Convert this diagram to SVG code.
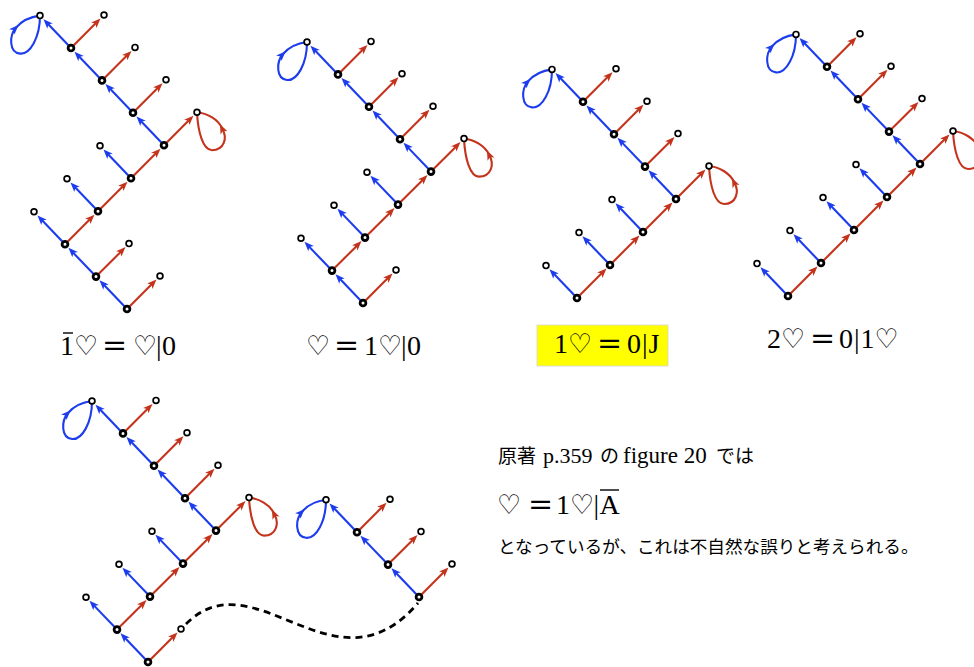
<svg xmlns="http://www.w3.org/2000/svg" xmlns:xlink="http://www.w3.org/1999/xlink" width="974" height="667" viewBox="0 0 974 667">
<style>
.lbl{font-family:"Liberation Serif","DejaVu Serif",serif;font-size:28px;fill:#000}
.ht{font-family:"DejaVu Sans",sans-serif;font-size:27px}
.eq{font-family:"DejaVu Serif",serif;font-size:30px}
.jp{font-family:"Noto Sans CJK JP",sans-serif;fill:#000}
.lt{font-family:"Liberation Serif","DejaVu Serif",serif;fill:#000}
.ovl{stroke:#000;stroke-width:1.4}
</style>
<defs>
<path id="ahR" d="M0,0 l-9.5,-3.8 l2.4,3.8 l-2.4,3.8z" fill="#c4341c"/>
<path id="ahB" d="M0,0 l-9.5,-3.8 l2.4,3.8 l-2.4,3.8z" fill="#1c3cee"/>
<g id="eR"><g transform="rotate(-45)"><line x1="0" y1="0" x2="36" y2="0" stroke="#c4341c" stroke-width="2.1"/><use xlink:href="#ahR" x="41.7" y="0"/></g></g>
<g id="eB"><g transform="rotate(-133.74)"><line x1="0" y1="0" x2="34.2" y2="0" stroke="#1c3cee" stroke-width="2.1"/><use xlink:href="#ahB" x="39.8" y="0"/></g></g>
<g id="loopB"><path d="M0,0 C0,22 -10,39 -20,38 C-31,37 -31,20 -24,12 C-18,5 -8,1 0,0" fill="none" stroke="#1c3cee" stroke-width="2.1"/><use xlink:href="#ahB" transform="translate(-21.5,9.5) rotate(-45)"/></g>
<g id="loopR"><path d="M0,0 C1,20 6,38 15,38 C27,38 31,26 25,16 C21,7 10,1 0,0" fill="none" stroke="#c4341c" stroke-width="2.1"/><use xlink:href="#ahR" transform="translate(23,12) rotate(-115)"/></g>
<circle id="ni" r="2.9" fill="#fff" stroke="#000" stroke-width="2.8"/>
<circle id="nl" r="2.9" fill="#fff" stroke="#000" stroke-width="1.7"/>
</defs>
<rect width="974" height="667" fill="#fff"/>

<g id="connectors">
<!-- diagram 1 -->
<use xlink:href="#eB" x="127" y="309"/><use xlink:href="#eR" x="127" y="309"/>
<use xlink:href="#eB" x="96" y="276.6"/><use xlink:href="#eR" x="96" y="276.6"/>
<use xlink:href="#eB" x="65" y="244.2"/><use xlink:href="#eR" x="65" y="244.2"/>
<use xlink:href="#eB" x="98" y="211.2"/><use xlink:href="#eR" x="98" y="211.2"/>
<use xlink:href="#eB" x="131" y="178.2"/><use xlink:href="#eR" x="131" y="178.2"/>
<use xlink:href="#eB" x="164" y="145.2"/><use xlink:href="#eR" x="164" y="145.2"/>
<use xlink:href="#eB" x="133" y="112.8"/><use xlink:href="#eR" x="133" y="112.8"/>
<use xlink:href="#eB" x="102" y="80.4"/><use xlink:href="#eR" x="102" y="80.4"/>
<use xlink:href="#eB" x="71" y="48"/><use xlink:href="#eR" x="71" y="48"/>
<use xlink:href="#loopR" x="197" y="112.2"/><use xlink:href="#loopB" x="40" y="15.6"/>
<!-- diagram 2 -->
<use xlink:href="#eB" x="363" y="303"/><use xlink:href="#eR" x="363" y="303"/>
<use xlink:href="#eB" x="332" y="270.6"/><use xlink:href="#eR" x="332" y="270.6"/>
<use xlink:href="#eB" x="365" y="237.6"/><use xlink:href="#eR" x="365" y="237.6"/>
<use xlink:href="#eB" x="398" y="204.6"/><use xlink:href="#eR" x="398" y="204.6"/>
<use xlink:href="#eB" x="431" y="171.6"/><use xlink:href="#eR" x="431" y="171.6"/>
<use xlink:href="#eB" x="400" y="139.2"/><use xlink:href="#eR" x="400" y="139.2"/>
<use xlink:href="#eB" x="369" y="106.8"/><use xlink:href="#eR" x="369" y="106.8"/>
<use xlink:href="#eB" x="338" y="74.4"/><use xlink:href="#eR" x="338" y="74.4"/>
<use xlink:href="#loopR" x="464" y="138.6"/><use xlink:href="#loopB" x="307" y="42"/>
<!-- diagram 3 -->
<use xlink:href="#eB" x="577" y="298"/><use xlink:href="#eR" x="577" y="298"/>
<use xlink:href="#eB" x="610" y="265"/><use xlink:href="#eR" x="610" y="265"/>
<use xlink:href="#eB" x="643" y="232"/><use xlink:href="#eR" x="643" y="232"/>
<use xlink:href="#eB" x="676" y="199"/><use xlink:href="#eR" x="676" y="199"/>
<use xlink:href="#eB" x="645" y="166.6"/><use xlink:href="#eR" x="645" y="166.6"/>
<use xlink:href="#eB" x="614" y="134.2"/><use xlink:href="#eR" x="614" y="134.2"/>
<use xlink:href="#eB" x="583" y="101.8"/><use xlink:href="#eR" x="583" y="101.8"/>
<use xlink:href="#loopR" x="709" y="166"/><use xlink:href="#loopB" x="552" y="69.4"/>
<!-- diagram 4 -->
<use xlink:href="#eB" x="788" y="296"/><use xlink:href="#eR" x="788" y="296"/>
<use xlink:href="#eB" x="821" y="263"/><use xlink:href="#eR" x="821" y="263"/>
<use xlink:href="#eB" x="854" y="230"/><use xlink:href="#eR" x="854" y="230"/>
<use xlink:href="#eB" x="887" y="197"/><use xlink:href="#eR" x="887" y="197"/>
<use xlink:href="#eB" x="920" y="164"/><use xlink:href="#eR" x="920" y="164"/>
<use xlink:href="#eB" x="889" y="131.6"/><use xlink:href="#eR" x="889" y="131.6"/>
<use xlink:href="#eB" x="858" y="99.2"/><use xlink:href="#eR" x="858" y="99.2"/>
<use xlink:href="#eB" x="827" y="66.8"/><use xlink:href="#eR" x="827" y="66.8"/>
<use xlink:href="#loopR" x="953" y="131"/><use xlink:href="#loopB" x="796" y="34.4"/>
<!-- diagram 5 -->
<use xlink:href="#eB" x="148" y="662"/><use xlink:href="#eR" x="148" y="662"/>
<use xlink:href="#eB" x="117" y="629.6"/><use xlink:href="#eR" x="117" y="629.6"/>
<use xlink:href="#eB" x="150" y="596.6"/><use xlink:href="#eR" x="150" y="596.6"/>
<use xlink:href="#eB" x="183" y="563.6"/><use xlink:href="#eR" x="183" y="563.6"/>
<use xlink:href="#eB" x="216" y="530.6"/><use xlink:href="#eR" x="216" y="530.6"/>
<use xlink:href="#eB" x="185" y="498.2"/><use xlink:href="#eR" x="185" y="498.2"/>
<use xlink:href="#eB" x="154" y="465.8"/><use xlink:href="#eR" x="154" y="465.8"/>
<use xlink:href="#eB" x="123" y="433.4"/><use xlink:href="#eR" x="123" y="433.4"/>
<use xlink:href="#loopR" x="249" y="497.6"/><use xlink:href="#loopB" x="92" y="401"/>
<!-- diagram 6 -->
<use xlink:href="#eB" x="419" y="597"/><use xlink:href="#eR" x="419" y="597"/>
<use xlink:href="#eB" x="388" y="564.6"/><use xlink:href="#eR" x="388" y="564.6"/>
<use xlink:href="#eB" x="357" y="532.2"/><use xlink:href="#eR" x="357" y="532.2"/>
<use xlink:href="#loopB" x="326" y="499.8"/>
<!-- dashed link -->
<path d="M186,624 C255,555 335,700 418,603" fill="none" stroke="#000" stroke-width="2.8" stroke-dasharray="7 5"/>
</g>

<g id="d1">
<g id="d1-n0"><use xlink:href="#ni" x="127" y="309"/></g>
<g id="d1-n1"><use xlink:href="#ni" x="96" y="276.6"/></g>
<g id="d1-n2"><use xlink:href="#ni" x="65" y="244.2"/></g>
<g id="d1-n3"><use xlink:href="#ni" x="98" y="211.2"/></g>
<g id="d1-n4"><use xlink:href="#ni" x="131" y="178.2"/></g>
<g id="d1-n5"><use xlink:href="#ni" x="164" y="145.2"/></g>
<g id="d1-n6"><use xlink:href="#ni" x="133" y="112.8"/></g>
<g id="d1-n7"><use xlink:href="#ni" x="102" y="80.4"/></g>
<g id="d1-n8"><use xlink:href="#ni" x="71" y="48"/></g>
<g id="d1-l0"><use xlink:href="#nl" x="160" y="276"/></g>
<g id="d1-l1"><use xlink:href="#nl" x="129" y="243.6"/></g>
<g id="d1-l2"><use xlink:href="#nl" x="34" y="211.8"/></g>
<g id="d1-l3"><use xlink:href="#nl" x="67" y="178.8"/></g>
<g id="d1-l4"><use xlink:href="#nl" x="100" y="145.8"/></g>
<g id="d1-l5"><use xlink:href="#nl" x="197" y="112.2"/></g>
<g id="d1-l6"><use xlink:href="#nl" x="166" y="79.8"/></g>
<g id="d1-l7"><use xlink:href="#nl" x="135" y="47.4"/></g>
<g id="d1-l8"><use xlink:href="#nl" x="104" y="15"/></g>
<g id="d1-top"><use xlink:href="#nl" x="40" y="15.6"/></g>
</g>

<g id="d2">
<g id="d2-n0"><use xlink:href="#ni" x="363" y="303"/></g>
<g id="d2-n1"><use xlink:href="#ni" x="332" y="270.6"/></g>
<g id="d2-n2"><use xlink:href="#ni" x="365" y="237.6"/></g>
<g id="d2-n3"><use xlink:href="#ni" x="398" y="204.6"/></g>
<g id="d2-n4"><use xlink:href="#ni" x="431" y="171.6"/></g>
<g id="d2-n5"><use xlink:href="#ni" x="400" y="139.2"/></g>
<g id="d2-n6"><use xlink:href="#ni" x="369" y="106.8"/></g>
<g id="d2-n7"><use xlink:href="#ni" x="338" y="74.4"/></g>
<g id="d2-l0"><use xlink:href="#nl" x="396" y="270"/></g>
<g id="d2-l1"><use xlink:href="#nl" x="301" y="238.2"/></g>
<g id="d2-l2"><use xlink:href="#nl" x="334" y="205.2"/></g>
<g id="d2-l3"><use xlink:href="#nl" x="367" y="172.2"/></g>
<g id="d2-l4"><use xlink:href="#nl" x="464" y="138.6"/></g>
<g id="d2-l5"><use xlink:href="#nl" x="433" y="106.2"/></g>
<g id="d2-l6"><use xlink:href="#nl" x="402" y="73.8"/></g>
<g id="d2-l7"><use xlink:href="#nl" x="371" y="41.4"/></g>
<g id="d2-top"><use xlink:href="#nl" x="307" y="42"/></g>
</g>

<g id="d3">
<g id="d3-n0"><use xlink:href="#ni" x="577" y="298"/></g>
<g id="d3-n1"><use xlink:href="#ni" x="610" y="265"/></g>
<g id="d3-n2"><use xlink:href="#ni" x="643" y="232"/></g>
<g id="d3-n3"><use xlink:href="#ni" x="676" y="199"/></g>
<g id="d3-n4"><use xlink:href="#ni" x="645" y="166.6"/></g>
<g id="d3-n5"><use xlink:href="#ni" x="614" y="134.2"/></g>
<g id="d3-n6"><use xlink:href="#ni" x="583" y="101.8"/></g>
<g id="d3-l0"><use xlink:href="#nl" x="546" y="265.6"/></g>
<g id="d3-l1"><use xlink:href="#nl" x="579" y="232.6"/></g>
<g id="d3-l2"><use xlink:href="#nl" x="612" y="199.6"/></g>
<g id="d3-l3"><use xlink:href="#nl" x="709" y="166"/></g>
<g id="d3-l4"><use xlink:href="#nl" x="678" y="133.6"/></g>
<g id="d3-l5"><use xlink:href="#nl" x="647" y="101.2"/></g>
<g id="d3-l6"><use xlink:href="#nl" x="616" y="68.8"/></g>
<g id="d3-top"><use xlink:href="#nl" x="552" y="69.4"/></g>
</g>

<g id="d4">
<g id="d4-n0"><use xlink:href="#ni" x="788" y="296"/></g>
<g id="d4-n1"><use xlink:href="#ni" x="821" y="263"/></g>
<g id="d4-n2"><use xlink:href="#ni" x="854" y="230"/></g>
<g id="d4-n3"><use xlink:href="#ni" x="887" y="197"/></g>
<g id="d4-n4"><use xlink:href="#ni" x="920" y="164"/></g>
<g id="d4-n5"><use xlink:href="#ni" x="889" y="131.6"/></g>
<g id="d4-n6"><use xlink:href="#ni" x="858" y="99.2"/></g>
<g id="d4-n7"><use xlink:href="#ni" x="827" y="66.8"/></g>
<g id="d4-l0"><use xlink:href="#nl" x="757" y="263.6"/></g>
<g id="d4-l1"><use xlink:href="#nl" x="790" y="230.6"/></g>
<g id="d4-l2"><use xlink:href="#nl" x="823" y="197.6"/></g>
<g id="d4-l3"><use xlink:href="#nl" x="856" y="164.6"/></g>
<g id="d4-l4"><use xlink:href="#nl" x="953" y="131"/></g>
<g id="d4-l5"><use xlink:href="#nl" x="922" y="98.6"/></g>
<g id="d4-l6"><use xlink:href="#nl" x="891" y="66.2"/></g>
<g id="d4-l7"><use xlink:href="#nl" x="860" y="33.8"/></g>
<g id="d4-top"><use xlink:href="#nl" x="796" y="34.4"/></g>
</g>

<g id="d5">
<g id="d5-n0"><use xlink:href="#ni" x="148" y="662"/></g>
<g id="d5-n1"><use xlink:href="#ni" x="117" y="629.6"/></g>
<g id="d5-n2"><use xlink:href="#ni" x="150" y="596.6"/></g>
<g id="d5-n3"><use xlink:href="#ni" x="183" y="563.6"/></g>
<g id="d5-n4"><use xlink:href="#ni" x="216" y="530.6"/></g>
<g id="d5-n5"><use xlink:href="#ni" x="185" y="498.2"/></g>
<g id="d5-n6"><use xlink:href="#ni" x="154" y="465.8"/></g>
<g id="d5-n7"><use xlink:href="#ni" x="123" y="433.4"/></g>
<g id="d5-l0"><use xlink:href="#nl" x="181" y="629"/></g>
<g id="d5-l1"><use xlink:href="#nl" x="86" y="597.2"/></g>
<g id="d5-l2"><use xlink:href="#nl" x="119" y="564.2"/></g>
<g id="d5-l3"><use xlink:href="#nl" x="152" y="531.2"/></g>
<g id="d5-l4"><use xlink:href="#nl" x="249" y="497.6"/></g>
<g id="d5-l5"><use xlink:href="#nl" x="218" y="465.2"/></g>
<g id="d5-l6"><use xlink:href="#nl" x="187" y="432.8"/></g>
<g id="d5-l7"><use xlink:href="#nl" x="156" y="400.4"/></g>
<g id="d5-top"><use xlink:href="#nl" x="92" y="401"/></g>
</g>

<g id="d6">
<g id="d6-n0"><use xlink:href="#ni" x="419" y="597"/></g>
<g id="d6-n1"><use xlink:href="#ni" x="388" y="564.6"/></g>
<g id="d6-n2"><use xlink:href="#ni" x="357" y="532.2"/></g>
<g id="d6-l0"><use xlink:href="#nl" x="452" y="564"/></g>
<g id="d6-l1"><use xlink:href="#nl" x="421" y="531.6"/></g>
<g id="d6-l2"><use xlink:href="#nl" x="390" y="499.2"/></g>
<g id="d6-top"><use xlink:href="#nl" x="326" y="499.8"/></g>
</g>

<g id="labels">
<g id="label1">
<line class="ovl" x1="63" y1="333" x2="73" y2="333"/>
<text class="lbl" y="355"><tspan x="60">1</tspan><tspan class="ht" x="74">♡</tspan><tspan class="eq" x="102">=</tspan><tspan class="ht" x="133">♡</tspan><tspan x="156">|</tspan><tspan x="162">0</tspan></text>
</g>
<g id="label2">
<text class="lbl" y="355"><tspan class="ht" x="306">♡</tspan><tspan class="eq" x="334">=</tspan><tspan x="364">1</tspan><tspan class="ht" x="378">♡</tspan><tspan x="401">|</tspan><tspan x="407">0</tspan></text>
</g>
<g id="label3">
<rect x="537" y="325" width="131" height="41" fill="#ffff00" stroke="#d4d4d4" stroke-width="0.8"/>
<text class="lbl" y="353"><tspan x="554">1</tspan><tspan class="ht" x="568">♡</tspan><tspan class="eq" x="597">=</tspan><tspan x="627">0</tspan><tspan x="642">|</tspan><tspan x="648.5">J</tspan></text>
</g>
<g id="label4">
<text class="lbl" y="348"><tspan x="767">2</tspan><tspan class="ht" x="781">♡</tspan><tspan class="eq" x="810">=</tspan><tspan x="839">0</tspan><tspan x="854">|</tspan><tspan x="860.5">1</tspan><tspan class="ht" x="874.5">♡</tspan></text>
</g>
</g>

<g id="note">
<text y="463"><tspan class="jp" font-size="19" x="498">原著</tspan><tspan class="lt" font-size="22" x="543">p.359</tspan><tspan class="jp" font-size="19" x="600">の</tspan><tspan class="lt" font-size="23" x="623">figure 20</tspan><tspan class="jp" font-size="19" x="716">では</tspan></text>
<line class="ovl" x1="600" y1="490" x2="619" y2="490"/>
<text class="lbl" y="514" font-size="27"><tspan class="ht" x="497">♡</tspan><tspan class="eq" x="528">=</tspan><tspan x="556">1</tspan><tspan class="ht" x="570">♡</tspan><tspan x="593.5">|</tspan><tspan x="599.5">A</tspan></text>
<text class="jp" x="498" y="553" font-size="17.6">となっているが、これは不自然な誤りと考えられる。</text>
</g>
</svg>
